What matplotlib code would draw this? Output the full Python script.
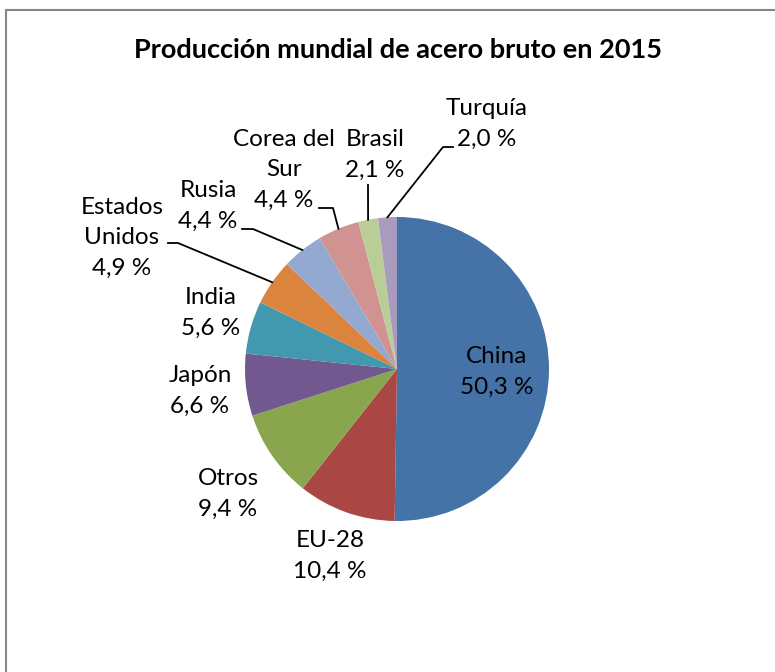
import numpy as np
import matplotlib.pyplot as plt

# Datos: producción mundial de acero bruto 2015 (%)
paises = ["China", "EU-28", "Otros", "Japón", "India", "Estados\nUnidos",
          "Rusia", "Corea del\nSur", "Brasil", "Turquía"]
porcentajes = [50.3, 10.4, 9.4, 6.6, 5.6, 4.9, 4.4, 4.4, 2.1, 2.0]
colores = ["#4572A7", "#AA4643", "#89A54E", "#71588F", "#4198AF",
           "#DB843D", "#93A9CF", "#D19392", "#B9CD96", "#A99BBD"]

W, H = 775, 672
CX, CY, R = 397, 369, 152

# posiciones de etiquetas (px) y codos de las líneas guía
pos_etiquetas = {
    "China": (497, 372), "EU-28": (330, 556), "Otros": (228, 494),
    "Japón": (200, 391), "India": (211, 313), "Estados\nUnidos": (122, 238),
    "Rusia": (208, 206), "Corea del\nSur": (284, 170), "Brasil": (375, 155),
    "Turquía": (487, 124),
}
guias = {
    "Estados\nUnidos": [(178, 243), (168, 243)],
    "Rusia": [(253, 229), (242, 229)],
    "Corea del\nSur": [(333, 208), (319, 208)],
    "Brasil": [(368, 185)],
    "Turquía": [(443, 147), (453, 147)],
}

plt.rcParams["font.family"] = ["Lato", "DejaVu Sans"]

fig = plt.figure(figsize=(W / 100, H / 100), dpi=100)
ax = fig.add_axes([0, 0, 1, 1])


def y(py):
    return H - py


wedges, _ = ax.pie(porcentajes, colors=colores, startangle=90,
                   counterclock=False, center=(CX, y(CY)), radius=R,
                   wedgeprops=dict(linewidth=0))
ax.set_xlim(0, W)
ax.set_ylim(0, H)
ax.set_aspect("equal")
ax.axis("off")

total = sum(porcentajes)
acum = 0
for nombre, valor in zip(paises, porcentajes):
    medio = (acum + valor / 2) / total
    acum += valor
    ang = np.deg2rad(90 - 360 * medio)
    px, py = pos_etiquetas[nombre]
    texto = f"{nombre}\n{valor:.1f} %".replace(".", ",")
    ax.text(px, y(py), texto, ha="center", va="center", fontsize=17.5,
            linespacing=1.55, color="black")
    if nombre in guias:
        xs = [CX + R * np.cos(ang)] + [p[0] for p in guias[nombre]]
        ys = [y(CY) + R * np.sin(ang)] + [y(p[1]) for p in guias[nombre]]
        ax.plot(xs, ys, color="black", lw=1.3)

ax.text(398, y(50), "Producción mundial de acero bruto en 2015",
        ha="center", va="center", fontsize=19.5, fontweight="bold")

# marco del gráfico (solo bordes visibles)
ax.plot([6, W], [y(10), y(10)], color="#868686", lw=1.5, clip_on=False)
ax.plot([6, 6], [y(10), 0], color="#868686", lw=1.5, clip_on=False)

fig.savefig("out.png", dpi=100)
